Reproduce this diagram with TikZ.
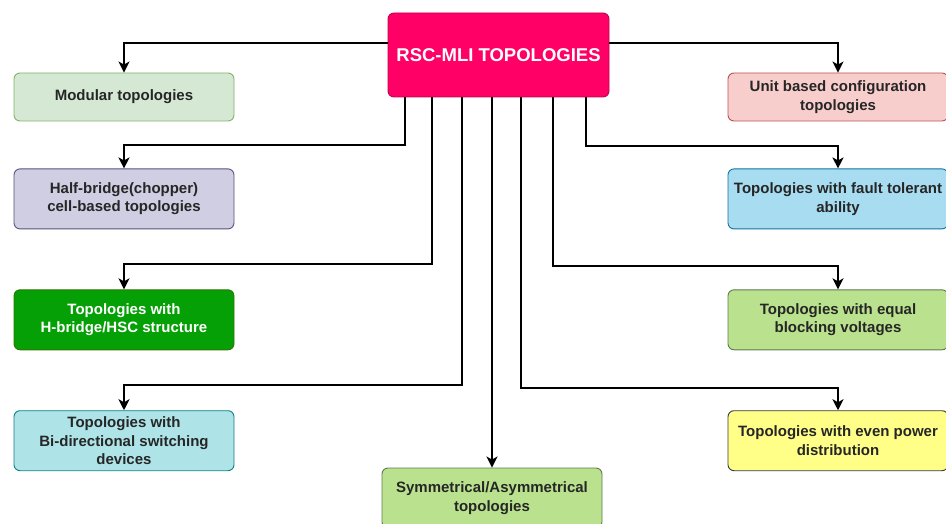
\documentclass[tikz,border=0pt]{standalone}
\usepackage{fontspec}
\setmainfont{Liberation Sans}
\usepackage{xcolor}
\usetikzlibrary{positioning,arrows.meta}

\definecolor{rootfill}{HTML}{FF0066}
\definecolor{rootline}{HTML}{C2004E}
\definecolor{modfill}{HTML}{D5E8D4}
\definecolor{modline}{HTML}{82B366}
\definecolor{halffill}{HTML}{D0CEE2}
\definecolor{halfline}{HTML}{56517E}
\definecolor{hbfill}{HTML}{05A005}
\definecolor{hbline}{HTML}{2D7600}
\definecolor{bifill}{HTML}{AEE4E8}
\definecolor{biline}{HTML}{0E8088}
\definecolor{unitfill}{HTML}{F8CECC}
\definecolor{unitline}{HTML}{B85450}
\definecolor{faultfill}{HTML}{A8DCF0}
\definecolor{faultline}{HTML}{10739E}
\definecolor{greenfill}{HTML}{BAE28E}
\definecolor{greenline}{HTML}{5F7A4F}
\definecolor{evenfill}{HTML}{FFFF88}
\definecolor{evenline}{HTML}{36393D}

\begin{document}
\begin{tikzpicture}[x=1pt, y=-1pt,
    box/.style={draw, rectangle, rounded corners=6pt, align=center, minimum width=220pt,
      minimum height=60pt, inner sep=1pt, line width=0.9pt, text=black!85,
      font=\fontsize{15}{18.5}\selectfont\bfseries},
    link/.style={line width=2pt, -{Stealth[length=11pt,width=11pt,inset=3pt]}}]
    \useasboundingbox (0,0) rectangle (946,524);
    \clip (0,0) rectangle (946,524);

    % Root
    \node [box, fill=rootfill, draw=rootline, text=white, minimum width=221pt, minimum height=84pt,
      font=\fontsize{18.5}{22}\selectfont\bfseries] (root) at (498.5,55) {RSC-MLI TOPOLOGIES};

    % Left column
    \node [box, minimum height=48pt, fill=modfill, draw=modline] (modular) at (124,97) {Modular topologies};
    \node [box, fill=halffill, draw=halfline, below=47pt of modular] (halfbridge) {Half-bridge(chopper)\\cell-based topologies};
    \node [box, fill=hbfill, draw=hbline, text=white, below=60pt of halfbridge] (hbridge) {Topologies with\\H-bridge/HSC structure};
    \node [box, fill=bifill, draw=biline, below=60pt of hbridge] (bidir) {Topologies with\\Bi-directional switching\\devices};

    % Right column
    \node [box, minimum height=48pt, fill=unitfill, draw=unitline] (unit) at (838,97) {Unit based configuration\\topologies};
    \node [box, fill=faultfill, draw=faultline, below=47pt of unit] (fault) {Topologies with fault tolerant\\ability};
    \node [box, fill=greenfill, draw=greenline, below=60pt of fault] (equal) {Topologies with equal\\blocking voltages};
    \node [box, fill=evenfill, draw=evenline, below=60pt of equal] (even) {Topologies with even power\\distribution};

    % Bottom
    \node [box, fill=greenfill, draw=greenline] (symmetric) at (492,498) {Symmetrical/Asymmetrical\\topologies};

    % Arrows to the left
    \draw [link] ([yshift=12pt]root.west) -| (modular.north);
    \draw [link] ([xshift=-93.5pt]root.south) |- ([yshift=23pt]halfbridge.north) -- (halfbridge.north);
    \draw [link] ([xshift=-66.5pt]root.south) |- ([yshift=25pt]hbridge.north) -- (hbridge.north);
    \draw [link] ([xshift=-36.5pt]root.south) |- ([yshift=25pt]bidir.north) -- (bidir.north);

    % Arrow down
    \draw [link] (root.south -| symmetric.north) -- (symmetric.north);

    % Arrows to the right
    \draw [link] ([yshift=12pt]root.east) -| (unit.north);
    \draw [link] ([xshift=87.5pt]root.south) |- ([yshift=22pt]fault.north) -- (fault.north);
    \draw [link] ([xshift=54.5pt]root.south) |- ([yshift=23pt]equal.north) -- (equal.north);
    \draw [link] ([xshift=22.5pt]root.south) |- ([yshift=22pt]even.north) -- (even.north);
\end{tikzpicture}
\end{document}
